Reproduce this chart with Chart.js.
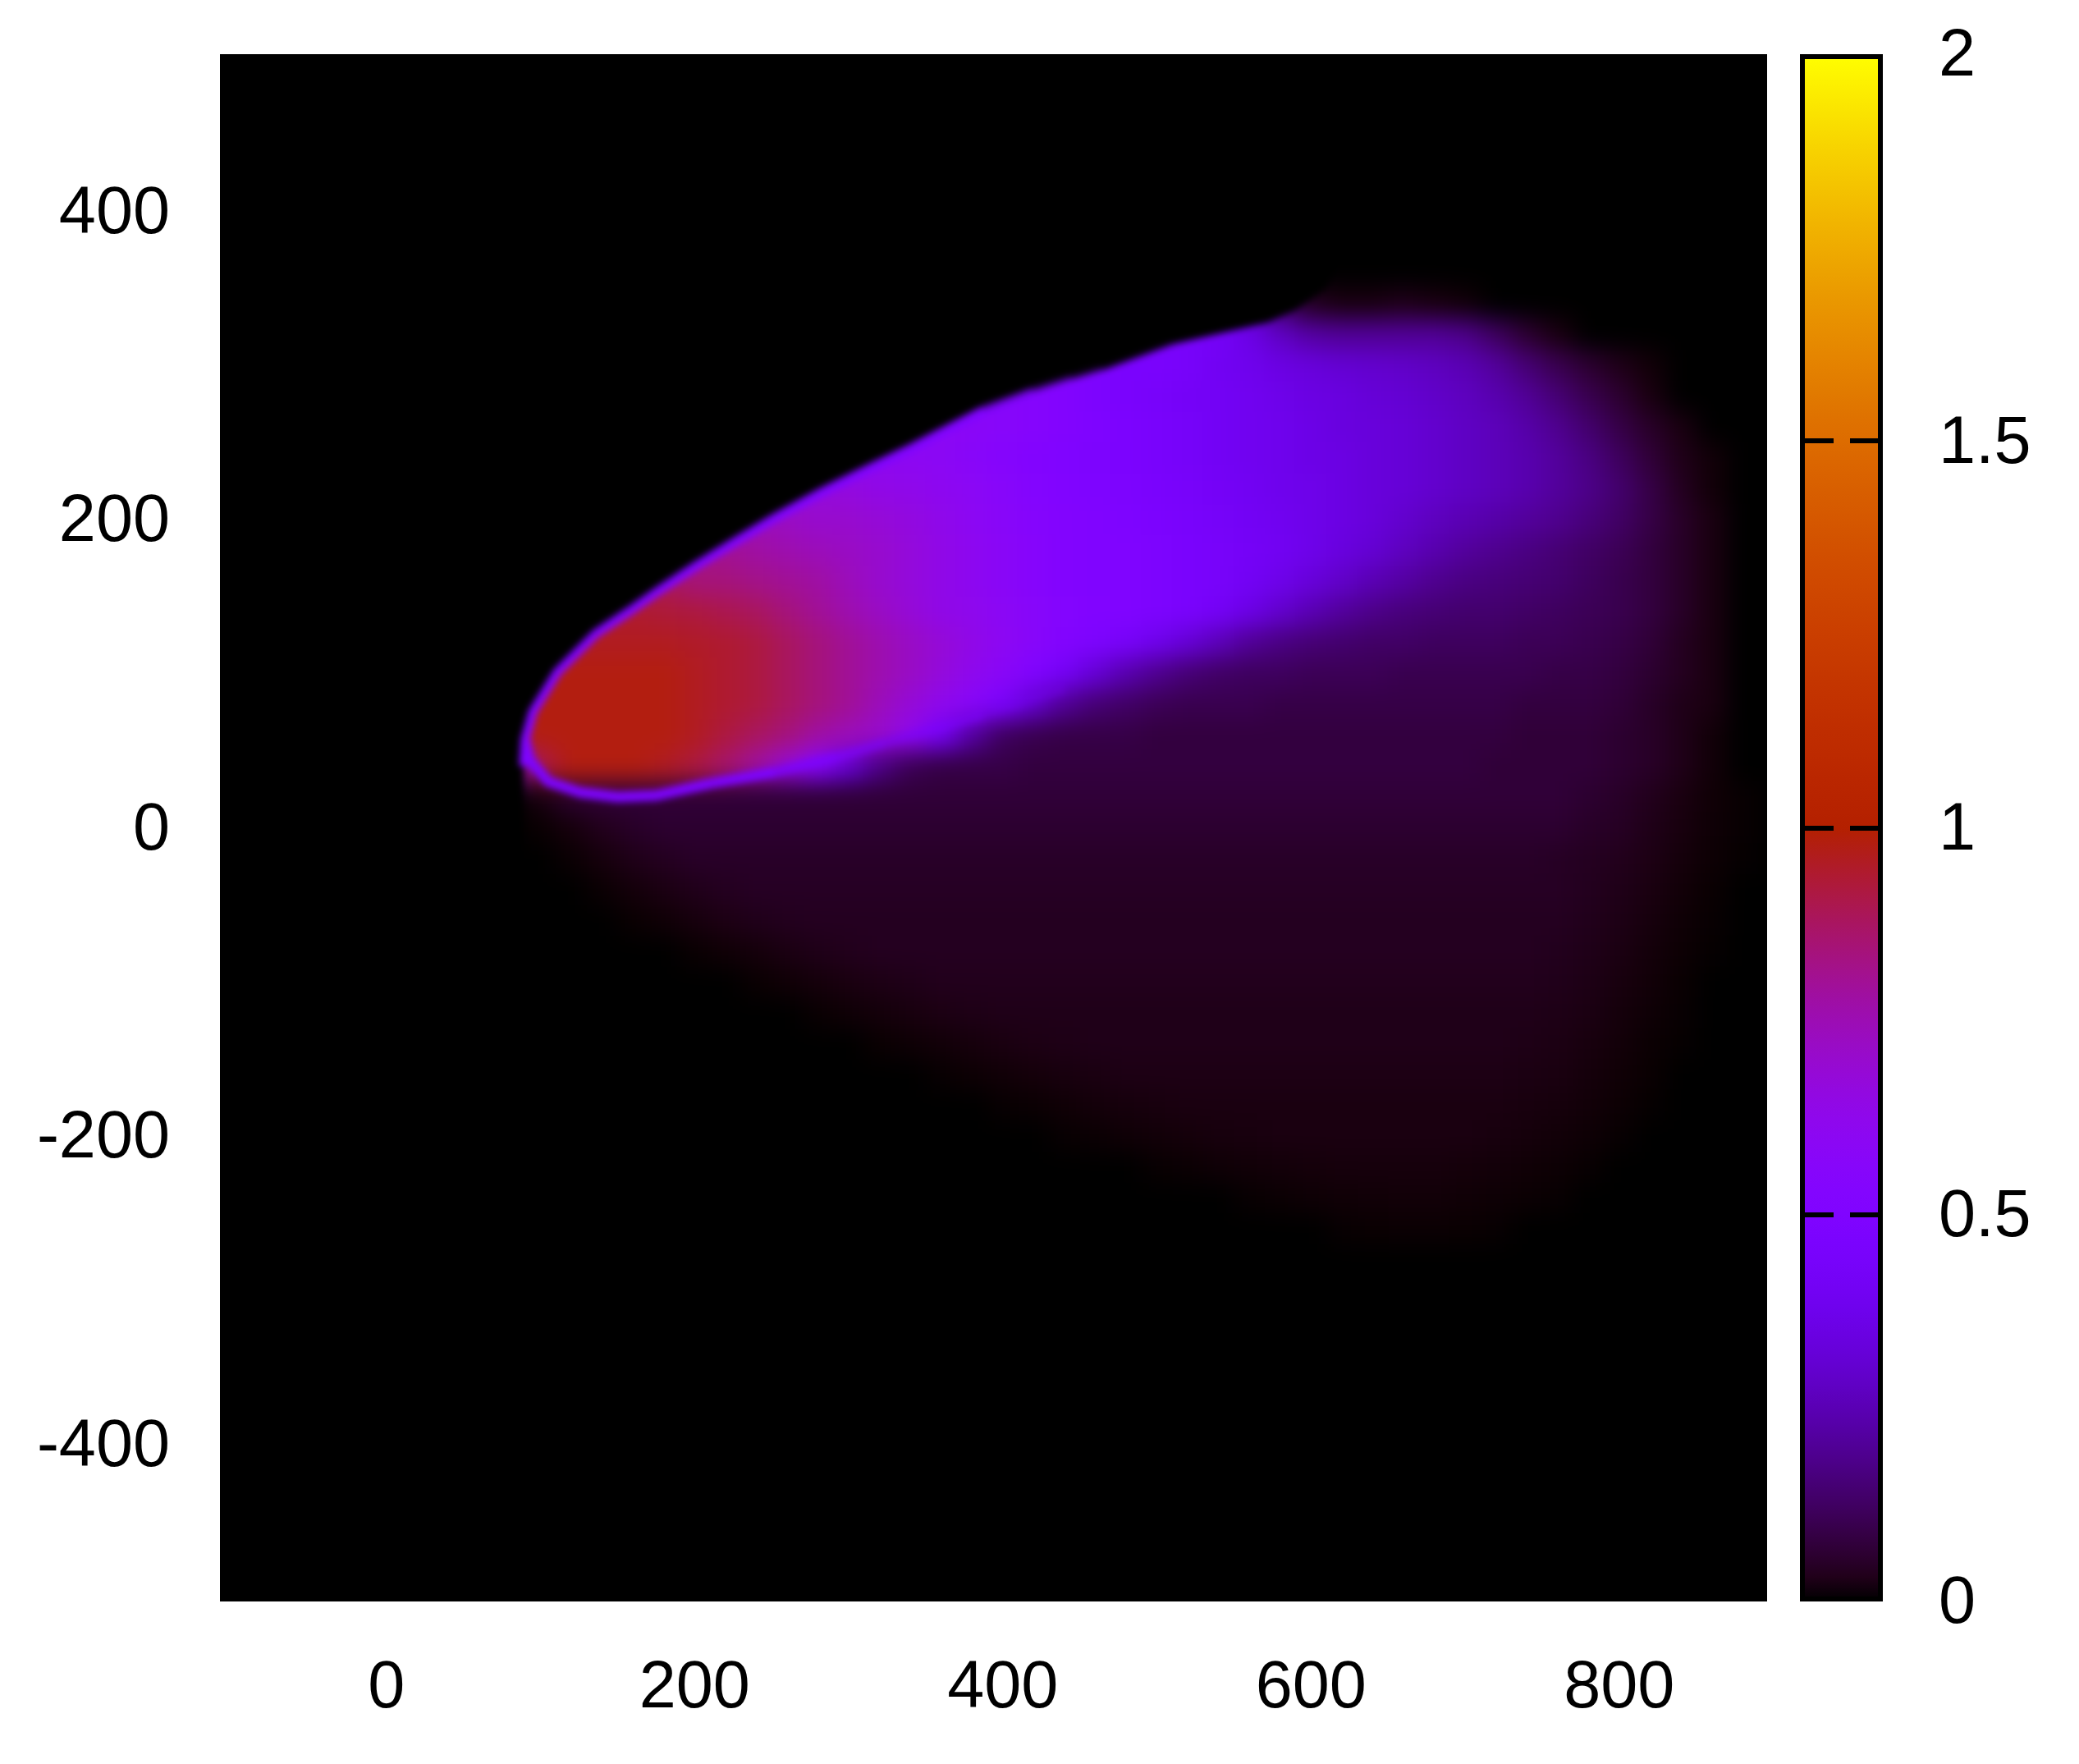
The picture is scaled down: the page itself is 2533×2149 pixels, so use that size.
<!DOCTYPE html>
<html>
<head>
<meta charset="utf-8">
<title>density map</title>
<script src="https://cdn.jsdelivr.net/npm/chart.js@4/dist/chart.umd.min.js"></script>
<style>
html, body { margin: 0; padding: 0; background: #fff; overflow: hidden; }
#wrap { position: relative; width: 2533px; height: 2149px; }
#mapBox { position: absolute; left: 0; top: 0; width: 2533px; height: 2149px; }
#barBox { position: absolute; left: 2170px; top: 0; width: 363px; height: 2149px; }
</style>
</head>
<body>
<div id="wrap">
  <div id="mapBox"><canvas id="mapChart"></canvas></div>
  <div id="barBox"><canvas id="barChart"></canvas></div>
</div>
<script>
const xTicks = [0, 200, 400, 600, 800];
const yTicks = [-400, -200, 0, 200, 400];
const barTicks = [0, 0.5, 1, 1.5, 2];

// cell centres on a 20 unit grid
const gridX = [80,100,120,140,160,180,200,220,240,260,280,300,320,340,360,380,400,420,440,460,
  480,500,520,540,560,580,600,620,640,660,680,700,720,740,760,780,800,820,840,860,880];
const gridY = [340,320,300,280,260,240,220,200,180,160,140,120,100,80,60,40,20,0,
  -20,-40,-60,-80,-100,-120,-140,-160,-180,-200,-220,-240,-260];

// estimated level in hundredths, one row per gridY value
const levels = [
  [0,0,0,0,0,0,0,0,0,0, 0,0,0,0,0,0,0,0,0,0, 44,44,44,40,28,12,4,2,2,3, 2,1,0,0,0,0,0,0,0,0,0],
  [0,0,0,0,0,0,0,0,0,0, 0,0,0,0,0,0,0,50,50,48, 44,44,44,42,36,28,22,20,20,20, 20,18,12,6,2,0,0,0,0,0,0],
  [0,0,0,0,0,0,0,0,0,0, 0,0,0,0,0,50,50,50,50,48, 46,46,44,40,38,35,33,31,30,29, 27,25,21,15,10,6,3,1,0,0,0],
  [0,0,0,0,0,0,0,0,0,0, 0,0,58,58,56,56,56,54,52,48, 46,44,42,41,39,37,35,34,32,31, 29,27,24,20,15,10,6,2,0,0,0],
  [0,0,0,0,0,0,0,0,0,0, 62,62,60,60,60,58,56,54,52,49, 47,45,43,41,39,38,36,34,33,32, 30,28,26,23,19,14,9,5,2,0,0],
  [0,0,0,0,0,0,0,0,68,68, 64,62,61,60,59,57,54,52,50,48, 47,45,43,41,39,38,36,35,33,32, 30,28,26,24,21,17,12,7,3,1,0],
  [0,0,0,0,0,0,74,72,70,68, 67,66,64,63,61,59,56,53,51,49, 48,46,44,42,40,38,37,35,33,32, 30,28,26,24,21,18,14,9,4,1,0],
  [0,0,0,0,80,80,78,76,74,72, 70,70,68,66,63,60,57,54,52,50, 49,47,45,43,41,39,37,35,33,30, 27,25,23,21,19,16,13,9,5,2,0],
  [0,0,86,86,86,84,82,80,78,76, 74,72,70,67,64,61,58,55,52,50, 50,48,46,44,42,40,37,34,31,27, 24,21,19,17,15,13,11,8,5,2,0],
  [0,90,90,90,90,88,84,84,82,80, 78,74,70,67,64,61,58,55,52,50, 50,48,46,44,41,37,33,29,25,22, 19,17,16,15,14,12,10,8,5,2,0],
  [94,94,94,94,94,93,92,90,88,84, 80,76,72,68,64,62,59,56,53,51, 50,48,46,42,36,30,25,21,18,16, 15,14,14,13,12,11,10,8,5,2,0],
  [96,96,96,96,96,96,95,94,92,88, 84,80,76,72,68,64,60,56,52,48, 44,38,32,26,20,17,15,14,13,13, 12,12,12,11,11,10,9,7,4,2,0],
  [96,98,98,98,98,98,96,94,92,88, 84,80,76,72,67,62,58,50,42,32, 24,19,15,13,12,12,11,11,11,10, 10,10,10,10,9,9,8,6,4,2,0],
  [98,98,98,98,98,98,96,94,92,88, 84,80,74,68,62,56,46,30,20,15, 13,11,10,10,10,9,9,9,9,9, 9,9,9,8,8,8,7,5,3,2,0],
  [98,98,98,98,98,98,96,92,88,84, 78,74,70,62,42,22,12,10,9,9, 9,8,8,8,8,8,8,8,8,8, 8,8,8,7,7,7,6,5,3,1,0],
  [40,90,98,98,98,96,92,86,78,68, 54,32,18,11,9,9,9,8,8,8, 8,8,8,8,8,8,8,8,8,8, 8,8,7,7,7,7,6,5,3,1,0],
  [0,2,6,7,7,7,7,7,7,7, 7,7,7,7,7,7,7,7,7,7, 7,7,7,7,7,7,7,7,7,7, 7,7,7,7,7,6,5,3.5,2,0.8,0.2],
  [0,0.3,1.5,3.5,5,6,6,6,6,6, 6,6,6,6,6,6,6,6,6,6, 6,6,6,6,6,6,6,6,6,6, 6,6,6,6,6,5,4.5,3,1.8,0.7,0.2],
  [0,0,0.4,1.5,3,4,5,5,5,5, 5,5,5,5,5,5,5,5,5,5, 5,5,5,5,5,5,5,5,5,5, 5,5,5,5,4.5,4,3.5,2.5,1.4,0.5,0.1],
  [0,0,0,0.4,1.2,2.2,3.2,4,4.5,4.5, 4.5,4.5,4.5,4.5,4.5,4.5,4.5,4.5,4.5,4.5, 4.5,4.5,4.5,4.5,4.5,4.5,4.5,4.5,4.5,4.5, 4.5,4.5,4.5,4.5,4.5,3.8,3,2,1,0.3,0],
  [0,0,0,0,0.3,0.8,1.6,2.5,3.2,3.8, 4,4,4,4,4,4,4,4,4,4, 4,4,4,4,4,4,4,4,4,4, 4,4,4,4,4,3.4,2.6,1.6,0.7,0.2,0],
  [0,0,0,0,0,0,0.3,0.8,1.4,2.2, 3,3.5,4,4,4,4,4,4,4,4, 4,4,4,4,4,4,4,4,4,4, 4,4,4,4,3.6,3,2.2,1.2,0.5,0.1,0],
  [0,0,0,0,0,0,0,0,0.3,0.8, 1.4,2,2.6,3,3.5,3.5,3.5,3.5,3.5,3.5, 3.5,3.5,3.5,3.5,3.5,3.5,3.5,3.5,3.5,3.5, 3.5,3.5,3.5,3.5,3.2,2.6,1.8,1,0.3,0,0],
  [0,0,0,0,0,0,0,0,0,0, 0.3,0.7,1.2,1.8,2.4,2.8,3,3,3,3, 3,3,3,3,3,3,3,3,3,3, 3,3,3,3,2.8,2.2,1.4,0.7,0.2,0,0],
  [0,0,0,0,0,0,0,0,0,0, 0,0,0.3,0.6,1,1.5,2,2.5,2.8,3, 3,3,3,3,3,3,3,3,3,3, 3,3,3,2.8,2.4,1.8,1.1,0.4,0.1,0,0],
  [0,0,0,0,0,0,0,0,0,0, 0,0,0,0,0.2,0.5,0.9,1.3,1.8,2.1, 2.5,2.5,2.5,2.5,2.5,2.5,2.5,2.5,2.5,2.5, 2.5,2.5,2.5,2.3,2,1.4,0.8,0.3,0,0,0],
  [0,0,0,0,0,0,0,0,0,0, 0,0,0,0,0,0,0.2,0.4,0.8,1.2, 1.5,1.8,2,2,2,2,2,2,2,2, 2,2,2,1.8,1.5,1,0.5,0.1,0,0,0],
  [0,0,0,0,0,0,0,0,0,0, 0,0,0,0,0,0,0,0,0.2,0.4, 0.7,1,1.3,1.6,1.8,2,2,2,2,2, 2,2,1.7,1.4,1,0.6,0.2,0,0,0,0],
  [0,0,0,0,0,0,0,0,0,0, 0,0,0,0,0,0,0,0,0,0, 0,0.2,0.4,0.7,0.9,1.1,1.3,1.5,1.5,1.5, 1.5,1.3,1.1,0.8,0.5,0.2,0,0,0,0,0],
  [0,0,0,0,0,0,0,0,0,0, 0,0,0,0,0,0,0,0,0,0, 0,0,0,0,0.2,0.4,0.6,0.8,0.9,1, 1,0.8,0.6,0.4,0.2,0,0,0,0,0,0],
  [0,0,0,0,0,0,0,0,0,0, 0,0,0,0,0,0,0,0,0,0, 0,0,0,0,0,0,0,0.2,0.3,0.4, 0.4,0.3,0.2,0,0,0,0,0,0,0,0]
];

// sharp upper edge of the cloud; everything above it is empty
const edgeX = [-108,88,89,90,95,111,136,157,177,201,227,252,283,313,338,388,420,445,465,511,572,590,610,625,640,660,896];
const edgeY = [-502,-502,40,57,75,101,126,140,154,170,186,201,218,233,245,271,283,291,297,314,328,336,350,380,420,502,502];

// thin bright lower rim of the tip
const rimX = [90,93,105,126,150,175,211,252,293,323,387,440];
const rimY = [57,44,30,23,20,21,29,36,46,55,73,90];

const FONT = { family: '"Liberation Sans", Arial, sans-serif', size: 81 };
const EDGE_RIM_FROM = 88.5;
const EDGE_RIM_TO = 470;
const EDGE_RIM_FADE = 110;
const RIM_FADE = 230;

// gnuplot default palette, level runs 0..2 on the colour bar
function palette(level, alpha) {
  const g = Math.min(1, Math.max(0, level / 2));
  const r = Math.sqrt(g);
  const gr = g * g * g;
  const b = Math.max(0, Math.sin(2 * Math.PI * g));
  const a = alpha === undefined ? 1 : alpha;
  return 'rgba(' + Math.round(r * 255) + ',' + Math.round(gr * 255) + ',' + Math.round(b * 255) + ',' + a + ')';
}

function toPoints(xs, ys) {
  return xs.map(function (x, i) { return { x: x, y: ys[i] }; });
}

const cells = [];
gridY.forEach(function (y, j) {
  gridX.forEach(function (x, i) {
    if (levels[j][i] > 0) cells.push({ x: x, y: y, v: levels[j][i] / 100 });
  });
});

// chart.js reserves room for half a label above and below, the axes here do not want that
function noPadding(s) {
  s.paddingTop = 0;
  s.paddingBottom = 0;
  s.paddingLeft = 0;
  s.paddingRight = 0;
}

// y labels sit a little low in the original
function nudgeLabels(s) {
  if (s.nudged) return;
  s.nudged = true;
  const draw = s.drawLabels;
  s.drawLabels = function (area) {
    s.ctx.save();
    s.ctx.translate(0, 4);
    draw.call(s, area);
    s.ctx.restore();
  };
}

function blurArea(chart, radius) {
  const a = chart.chartArea, ctx = chart.ctx;
  ctx.save();
  ctx.beginPath();
  ctx.rect(a.left, a.top, a.width, a.height);
  ctx.clip();
  ctx.filter = 'blur(' + radius + 'px)';
  ctx.drawImage(chart.canvas, a.left, a.top, a.width, a.height, a.left, a.top, a.width, a.height);
  ctx.restore();
}

// black plot background, soften the 20 unit cells, then lightly the edges drawn on top
const plotPlugin = {
  id: 'plotPlugin',
  beforeDatasetsDraw(chart) {
    const a = chart.chartArea, ctx = chart.ctx;
    ctx.save();
    ctx.fillStyle = '#000';
    ctx.fillRect(a.left, a.top, a.width, a.height);
    ctx.restore();
  },
  afterDatasetDraw(chart, args) {
    if (args.index === 1) blurArea(chart, 14);
  },
  afterDatasetsDraw(chart) {
    blurArea(chart, 4);
  }
};

new Chart(document.getElementById('mapChart'), {
  type: 'scatter',
  data: {
    datasets: [{
      // black above the edge, no segment styling here or the fill gets seams
      type: 'line',
      order: 1,
      data: toPoints(edgeX, edgeY),
      showLine: true,
      fill: 'end',
      backgroundColor: '#000',
      pointRadius: 0,
      borderWidth: 0
    }, {
      order: 2,
      data: cells,
      pointStyle: 'rect',
      pointRadius: function (c) {
        // square side = one grid step
        const sx = c.chart.scales.x;
        return Math.abs(sx.getPixelForValue(20) - sx.getPixelForValue(0)) / Math.SQRT2 + 0.5;
      },
      pointBorderWidth: 0,
      pointBackgroundColor: function (c) { return c.raw ? palette(c.raw.v) : '#000'; }
    }, {
      type: 'line',
      order: 1,
      data: toPoints(rimX, rimY),
      showLine: true,
      fill: false,
      pointRadius: 0,
      borderWidth: 13,
      segment: {
        // rim dies out to the right
        borderColor: function (c) {
          const x = c.p0.parsed.x;
          return palette(0.48, Math.max(0, Math.min(1, (rimX[rimX.length - 1] - x) / RIM_FADE)));
        }
      }
    }, {
      // order 0 so it lands on top of the black fill
      type: 'line',
      order: 0,
      data: toPoints(edgeX, edgeY),
      showLine: true,
      fill: false,
      pointRadius: 0,
      borderWidth: 11,
      segment: {
        borderColor: function (c) {
          const x = c.p0.parsed.x;
          if (x <= EDGE_RIM_FROM || x >= EDGE_RIM_TO) return 'rgba(0,0,0,0)';
          return palette(0.5, Math.min(1, (EDGE_RIM_TO - x) / EDGE_RIM_FADE));
        }
      }
    }]
  },
  plugins: [plotPlugin],
  options: {
    responsive: true,
    maintainAspectRatio: false,
    animation: false,
    events: [],
    layout: { padding: { top: 66, right: 380, left: 0, bottom: 0 } },
    plugins: { legend: { display: false }, tooltip: { enabled: false } },
    scales: {
      x: {
        type: 'linear', min: -108, max: 896,
        grid: { display: false, drawTicks: false },
        border: { display: false },
        afterBuildTicks: function (s) { s.ticks = xTicks.map(function (v) { return { value: v }; }); },
        afterFit: function (s) { s.height = 198; noPadding(s); },
        ticks: { font: FONT, color: '#000', padding: 58, autoSkip: false, maxRotation: 0 }
      },
      y: {
        type: 'linear', min: -502, max: 502,
        grid: { display: false, drawTicks: false },
        border: { display: false },
        afterBuildTicks: function (s) { s.ticks = yTicks.map(function (v) { return { value: v }; }); },
        afterFit: function (s) { s.width = 268; noPadding(s); nudgeLabels(s); },
        ticks: { font: FONT, color: '#000', padding: 61, autoSkip: false }
      }
    }
  }
});

const barFrame = {
  id: 'barFrame',
  afterDraw(chart) {
    const a = chart.chartArea, ctx = chart.ctx;
    ctx.save();
    ctx.strokeStyle = '#000';
    ctx.lineWidth = 6;
    ctx.strokeRect(a.left, a.top + 3, a.width, a.height - 6);
    ctx.restore();
  }
};

function barGradient(c) {
  const a = c.chart.chartArea;
  if (!a) return '#000';
  const g = c.chart.ctx.createLinearGradient(0, a.bottom, 0, a.top);
  for (let i = 0; i <= 64; i++) g.addColorStop(i / 64, palette(2 * i / 64));
  return g;
}

new Chart(document.getElementById('barChart'), {
  type: 'bar',
  data: {
    labels: [''],
    datasets: [{ data: [[0, 2]], backgroundColor: barGradient, borderWidth: 0, barPercentage: 1, categoryPercentage: 1 }]
  },
  plugins: [barFrame],
  options: {
    responsive: true,
    maintainAspectRatio: false,
    animation: false,
    events: [],
    layout: { padding: { top: 66, bottom: 198, left: 26, right: 0 } },
    plugins: { legend: { display: false }, tooltip: { enabled: false } },
    scales: {
      x: { display: false },
      y: {
        position: 'right',
        type: 'linear', min: 0, max: 2,
        grid: {
          z: 1,
          drawTicks: false,
          lineWidth: 6,
          color: function (c) { return (c.tick && (c.tick.value === 0 || c.tick.value === 2)) ? 'rgba(0,0,0,0)' : '#000'; }
        },
        border: { display: false, dash: [38, 20, 37, 0] },
        afterBuildTicks: function (s) { s.ticks = barTicks.map(function (v) { return { value: v }; }); },
        afterFit: function (s) { s.width = 242; noPadding(s); nudgeLabels(s); },
        ticks: {
          font: FONT, color: '#000', padding: 71, autoSkip: false,
          callback: function (v) { return String(v); }
        }
      }
    }
  }
});
</script>
</body>
</html>
